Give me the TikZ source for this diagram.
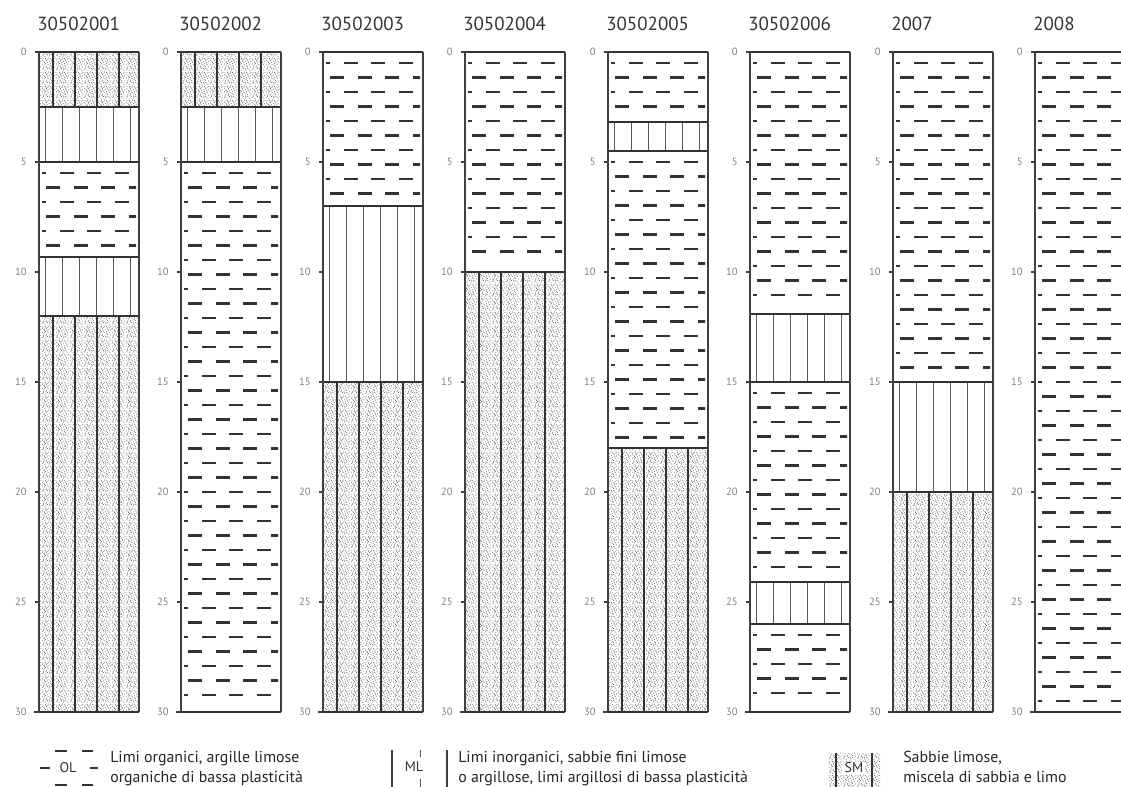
\documentclass[tikz,border=0pt]{standalone}
\usepackage{fontspec}
\setmainfont{PT Sans}
\usetikzlibrary{patterns.meta}

% stipple for the sand layers
\pgfdeclarepattern{
  name=sandy,
  type=uncolored,
  bottom left={\pgfpointorigin},
  top right={\pgfpoint{10pt}{10pt}},
  tile size={\pgfpoint{10pt}{10pt}},
  code={
    \foreach \px/\py in {0.6/1.2,2.3/0.4,4.1/1.8,6.0/0.7,8.2/1.5,9.3/3.0,1.4/3.1,3.5/3.6,5.3/2.9,7.2/3.4,
      0.3/5.2,2.6/5.6,4.6/4.9,6.5/5.5,8.6/5.1,1.5/7.3,3.4/7.6,5.5/7.0,7.6/7.4,9.5/6.9,
      0.7/9.1,2.5/9.4,4.4/8.8,6.4/9.3,8.5/8.9,1.1/2.2,7.0/2.0,3.0/8.4,8.0/6.2,5.0/9.8,
      2.0/4.5,6.2/4.1,9.0/0.2,4.0/6.2,7.1/8.3,0.2/7.9,5.8/1.6,3.1/2.5,9.7/9.6,1.9/6.4}
      {\pgfpathcircle{\pgfpoint{\px pt}{\py pt}}{0.36pt}}
    \pgfusepath{fill}
  }
}

\tikzset{
  frame/.style={draw=black!75, line width=0.9pt},
  bound/.style={draw=black!80, line width=1.3pt},
  olbar/.style={draw=black!80, line width=1.9pt},
  mlline/.style={draw=black!65, line width=0.6pt},
  smline/.style={draw=black!80, line width=1pt},
  sand/.style={pattern=sandy, pattern color=black!65},
  title/.style={anchor=base west, inner sep=0pt, text=black!80, font=\fontsize{13.5}{15}\selectfont},
  depth/.style={anchor=east, inner sep=0pt, text=black!50, font=\fontsize{7.5}{8}\selectfont},
  legend/.style={anchor=north west, align=left, inner sep=0pt, text=black!85, font=\fontsize{11.3}{14.2}\selectfont},
  symtxt/.style={inner sep=1pt, text=black!80, font=\fontsize{10}{12}\selectfont}
}

% layers: #1 = left edge of column, #2 = top depth, #3 = bottom depth (m)
\newcommand\layerOL[3]{%
  \pgfmathsetmacro\yt{52+22*#2}%
  \pgfmathsetmacro\yb{52+22*#3}%
  \pgfmathtruncatemacro\nr{(\yb-\yt-19)/14.5}%
  \begin{scope}
    \clip (#1+3,\yt) rectangle (#1+97,\yb);
    \foreach \r in {0,...,\nr} {
      \pgfmathsetmacro\yy{\yt+11+14.5*\r}
      \pgfmathsetmacro\sh{7-13.75*mod(\r+1,2)}
      \foreach \k in {0,...,4}
        \draw[olbar] ({#1+\sh+27.5*\k},\yy) -- ++(14,0);
    }
  \end{scope}}
\newcommand\layerML[3]{%
  \pgfmathsetmacro\yt{52+22*#2}%
  \pgfmathsetmacro\yb{52+22*#3}%
  \foreach \k in {0,...,5}
    \draw[mlline] ({#1+6+17*\k},\yt) -- ({#1+6+17*\k},\yb);}
\newcommand\layerSM[3]{%
  \pgfmathsetmacro\yt{52+22*#2}%
  \pgfmathsetmacro\yb{52+22*#3}%
  \fill[sand] (#1,\yt) rectangle (#1+100,\yb);
  \foreach \k in {0,...,3}
    \draw[smline] ({#1+14+22*\k},\yt) -- ({#1+14+22*\k},\yb);}

\begin{document}
\begin{tikzpicture}[x=0.025cm, y=-0.025cm]
\useasboundingbox (0,0) rectangle (1121,787);

% boreholes
\foreach \x/\name/\layers in {
    39/30502001/{SM/0/2.5, ML/2.5/5, OL/5/9.3, ML/9.3/12, SM/12/30},
    181/30502002/{SM/0/2.5, ML/2.5/5, OL/5/30},
    323/30502003/{OL/0/7, ML/7/15, SM/15/30},
    465/30502004/{OL/0/10, SM/10/30},
    608/30502005/{OL/0/3.2, ML/3.2/4.5, OL/4.5/18, SM/18/30},
    750/30502006/{OL/0/11.9, ML/11.9/15, OL/15/24.1, ML/24.1/26, OL/26/30},
    893/2007/{OL/0/15, ML/15/20, SM/20/30},
    1035/2008/{OL/0/30}} {
  \node[title] (h\x) at (\x-2,31) {\name};
  \foreach \t/\a/\b in \layers {
    \csname layer\t\endcsname{\x}{\a}{\b}
    \draw[bound] (\x,{52+22*\a}) -- (\x+100,{52+22*\a});
  }
  \draw[frame] (\x,52) -- (\x,712) (\x+100,52) -- (\x+100,712);
  \draw[bound] (\x-5,712) -- (\x+100,712);
  \foreach \m in {0,5,...,30} {
    \draw[frame] (\x-4,{52+22*\m}) -- (\x,{52+22*\m});
    \node[depth] (d\x-\m) at (\x-12,{52+22*\m}) {\m};
  }
}

% legend
\draw[olbar] (55,751) -- (67,751) (82,751) -- (93,751)
             (40,768) -- (50,768) (90,768) -- (98,768)
             (55,785) -- (67,785) (82,785) -- (93,785);
\node[symtxt] (ol) at (68,768) {OL};
\node[legend] (olt) at (110,751) {Limi organici, argille limose\\organiche di bassa plasticità};

\draw[frame] (392,750) -- (392,787) (447,750) -- (447,787);
\draw[mlline] (420,750) -- (420,757) (420,779) -- (420,787);
\node[symtxt] (ml) at (414,767) {ML};
\node[legend] (mlt) at (458,751) {Limi inorganici, sabbie fini limose\\o argillose, limi argillosi di bassa plasticità};

\fill[sand] (828,753) rectangle (880,787);
\draw[smline] (836,753) -- (836,787) (872,753) -- (872,787);
\node[symtxt, fill=white] (sm) at (854,768) {SM};
\node[legend] (smt) at (903,751) {Sabbie limose,\\miscela di sabbia e limo};
\end{tikzpicture}
\end{document}
